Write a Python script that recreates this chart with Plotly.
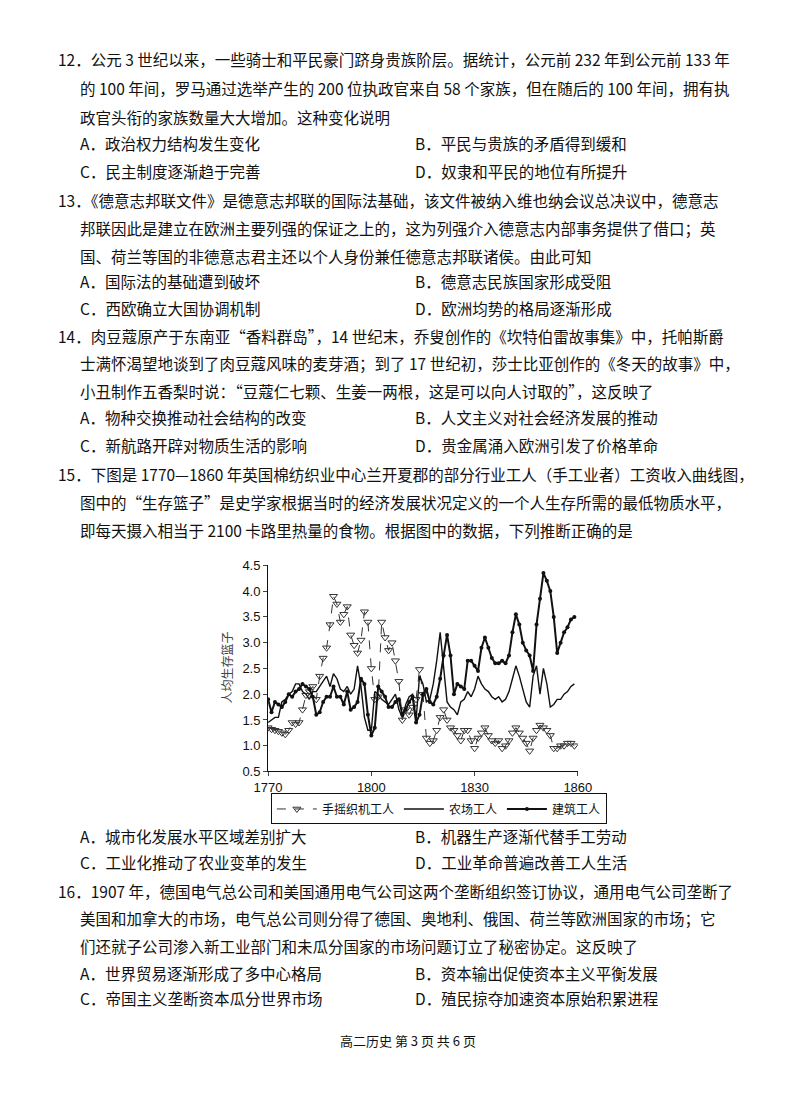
import plotly.graph_objects as go

years = list(range(1770, 1860))
handloom = [1.35, 1.32, 1.30, 1.28, 1.25, 1.22, 1.30, 1.45, 1.42, 1.45,
            1.70, 1.98, 2.05, 2.15, 1.90, 2.35, 2.70, 2.90, 3.35, 3.90,
            3.75, 3.40, 3.55, 3.70, 3.15, 2.95, 2.80, 3.05, 3.60, 3.40,
            2.50, 1.90, 1.95, 3.40, 3.10, 2.85, 3.00, 2.65, 2.25, 1.50,
            1.70, 1.60, 1.75, 1.90, 2.48, 2.00, 1.15, 1.05, 1.10, 1.30,
            1.55, 1.70, 1.50, 1.35, 1.30, 1.20, 1.10, 1.30, 1.30, 1.10,
            0.95, 1.15, 1.25, 1.35, 1.20, 1.10, 1.05, 1.10, 0.95, 1.00,
            1.10, 1.25, 1.35, 1.25, 1.15, 1.05, 0.90, 1.15, 1.30, 1.40,
            1.35, 1.30, 1.20, 0.95, 0.95, 1.00, 1.00, 1.05, 1.05, 1.00]
farm = [1.45, 1.50, 1.55, 1.55, 1.85, 1.90, 2.00, 2.05, 2.20, 2.20,
        2.05, 2.00, 1.90, 2.05, 2.05, 2.15, 2.25, 2.35, 2.15, 2.40,
        2.30, 2.10, 2.05, 2.15, 2.00, 2.10, 2.55, 2.15, 1.55, 1.30,
        1.30, 2.05, 2.00, 1.90, 1.85, 1.80, 1.90, 2.00, 1.70, 1.55,
        1.80, 1.95, 2.00, 1.50, 2.35, 2.20, 1.85, 1.90, 2.20, 2.65,
        3.20, 2.50, 1.85, 1.75, 1.70, 1.60, 1.85, 1.90, 2.05, 1.95,
        2.10, 2.35, 2.20, 2.10, 2.05, 1.95, 1.90, 1.95, 1.85, 1.90,
        2.05, 2.30, 2.55, 2.35, 2.10, 1.85, 1.75, 2.35, 2.55, 2.00,
        2.50, 2.20, 1.75, 1.80, 1.90, 1.90, 2.00, 2.05, 2.15, 2.20]
building = [1.90, 1.65, 1.85, 1.80, 1.75, 1.85, 2.00, 1.95, 2.05, 2.10,
            2.20, 2.15, 2.10, 1.95, 1.60, 1.65, 1.85, 1.95, 1.95, 2.15,
            1.95, 1.95, 1.80, 2.05, 1.70, 1.75, 1.85, 2.30, 2.20, 1.60,
            1.20, 1.35, 2.15, 2.05, 1.95, 1.75, 1.75, 1.85, 1.90, 1.60,
            1.70, 1.85, 1.95, 1.45, 1.60, 2.00, 2.10, 1.85, 1.80, 1.95,
            2.30, 2.75, 3.15, 2.75, 2.00, 2.20, 2.15, 2.10, 2.65, 2.65,
            2.55, 2.45, 2.90, 3.10, 2.90, 2.70, 2.60, 2.60, 2.65, 2.60,
            2.75, 3.20, 3.55, 3.35, 3.00, 2.85, 2.75, 2.45, 3.35, 3.85,
            4.35, 4.20, 4.00, 3.50, 2.80, 3.00, 3.20, 3.30, 3.45, 3.50]

x_ticks = [1770, 1800, 1830, 1860]
y_ticks = [0.5, 1.0, 1.5, 2.0, 2.5, 3.0, 3.5, 4.0, 4.5]

page_lines = [
    (35, 45, "12．公元 3 世纪以来，一些骑士和平民豪门跻身贵族阶层。据统计，公元前 232 年到公元前 133 年"),
    (58, 74, "的 100 年间，罗马通过选举产生的 200 位执政官来自 58 个家族，但在随后的 100 年间，拥有执"),
    (58, 103, "政官头衔的家族数量大大增加。这种变化说明"),
    (58, 130, "A．政治权力结构发生变化"), (405, 130, "B．平民与贵族的矛盾得到缓和"),
    (58, 158, "C．民主制度逐渐趋于完善"), (405, 158, "D．奴隶和平民的地位有所提升"),
    (35, 188, "13．《德意志邦联文件》是德意志邦联的国际法基础，该文件被纳入维也纳会议总决议中，德意志"),
    (58, 216, "邦联因此是建立在欧洲主要列强的保证之上的，这为列强介入德意志内部事务提供了借口；英"),
    (58, 244, "国、荷兰等国的非德意志君主还以个人身份兼任德意志邦联诸侯。由此可知"),
    (58, 270, "A．国际法的基础遭到破坏"), (405, 270, "B．德意志民族国家形成受阻"),
    (58, 297, "C．西欧确立大国协调机制"), (405, 297, "D．欧洲均势的格局逐渐形成"),
    (35, 325, "14．肉豆蔻原产于东南亚“香料群岛”，14 世纪末，乔叟创作的《坎特伯雷故事集》中，托帕斯爵"),
    (58, 353, "士满怀渴望地谈到了肉豆蔻风味的麦芽酒；到了 17 世纪初，莎士比亚创作的《冬天的故事》中，"),
    (58, 381, "小丑制作五香梨时说：“豆蔻仁七颗、生姜一两根，这是可以向人讨取的”，这反映了"),
    (58, 408, "A．物种交换推动社会结构的改变"), (405, 408, "B．人文主义对社会经济发展的推动"),
    (58, 436, "C．新航路开辟对物质生活的影响"), (405, 436, "D．贵金属涌入欧洲引发了价格革命"),
    (35, 465, "15．下图是 1770—1860 年英国棉纺织业中心兰开夏郡的部分行业工人（手工业者）工资收入曲线图，"),
    (58, 494, "图中的“生存篮子”是史学家根据当时的经济发展状况定义的一个人生存所需的最低物质水平，"),
    (58, 522, "即每天摄入相当于 2100 卡路里热量的食物。根据图中的数据，下列推断正确的是"),
    (58, 832, "A．城市化发展水平区域差别扩大"), (405, 832, "B．机器生产逐渐代替手工劳动"),
    (58, 859, "C．工业化推动了农业变革的发生"), (405, 859, "D．工业革命普遍改善工人生活"),
    (35, 888, "16．1907 年，德国电气总公司和美国通用电气公司这两个垄断组织签订协议，通用电气公司垄断了"),
    (58, 916, "美国和加拿大的市场，电气总公司则分得了德国、奥地利、俄国、荷兰等欧洲国家的市场；它"),
    (58, 944, "们还就子公司渗入新工业部门和未瓜分国家的市场问题订立了秘密协定。这反映了"),
    (58, 971, "A．世界贸易逐渐形成了多中心格局"), (405, 971, "B．资本输出促使资本主义平衡发展"),
    (58, 997, "C．帝国主义垄断资本瓜分世界市场"), (405, 997, "D．殖民掠夺加速资本原始积累进程"),
]

W, H = 800, 1094
fig = go.Figure()
fig.add_trace(go.Scatter(x=years, y=handloom, name="手摇织机工人", mode="lines+markers",
                         line=dict(color="#333", width=1, dash="dash"),
                         marker=dict(symbol="triangle-down-open", size=7, color="#333")))
fig.add_trace(go.Scatter(x=years, y=farm, name="农场工人", mode="lines",
                         line=dict(color="#111", width=1.4)))
fig.add_trace(go.Scatter(x=years, y=building, name="建筑工人", mode="lines+markers",
                         line=dict(color="#111", width=2),
                         marker=dict(symbol="circle", size=4, color="#111")))

ann = [dict(x=px_ / W, y=1 - py / H, xref="paper", yref="paper", text=t, showarrow=False,
            xanchor="left", yanchor="middle", font=dict(size=15.5, color="#111"))
       for px_, py, t in page_lines]
ann.append(dict(x=0.5, y=1 - 1051 / H, xref="paper", yref="paper", text="高二历史 第 3 页 共 6 页",
                showarrow=False, font=dict(size=13, color="#111")))
ann.append(dict(x=212 / W, y=1 - 662 / H, xref="paper", yref="paper", text="人均生存篮子",
                showarrow=False, textangle=-90, xanchor="center", font=dict(size=12, color="#444")))

fig.update_layout(
    width=W, height=H, margin=dict(l=0, r=0, t=0, b=0),
    paper_bgcolor="white", plot_bgcolor="white",
    font=dict(family="Noto Sans CJK SC", color="#111"),
    annotations=ann,
    xaxis=dict(domain=[255 / W, 576 / W], range=[1770, 1860], tickvals=x_ticks,
               showline=True, linecolor="#111", ticks="outside", ticklen=4,
               showgrid=False, zeroline=False, tickfont=dict(size=13, family="Liberation Sans")),
    yaxis=dict(domain=[1 - 767 / H, 1 - 558 / H], range=[0.5, 4.5], tickvals=y_ticks,
               tickformat=".1f", showline=True, linecolor="#111", ticks="outside", ticklen=4,
               showgrid=False, zeroline=False, tickfont=dict(size=13, family="Liberation Sans")),
    legend=dict(orientation="h", x=432 / W, y=1 - 805 / H, xanchor="center", yanchor="middle",
                bordercolor="#111", borderwidth=1, font=dict(size=12), itemwidth=40),
)
fig.write_html("out.html")
